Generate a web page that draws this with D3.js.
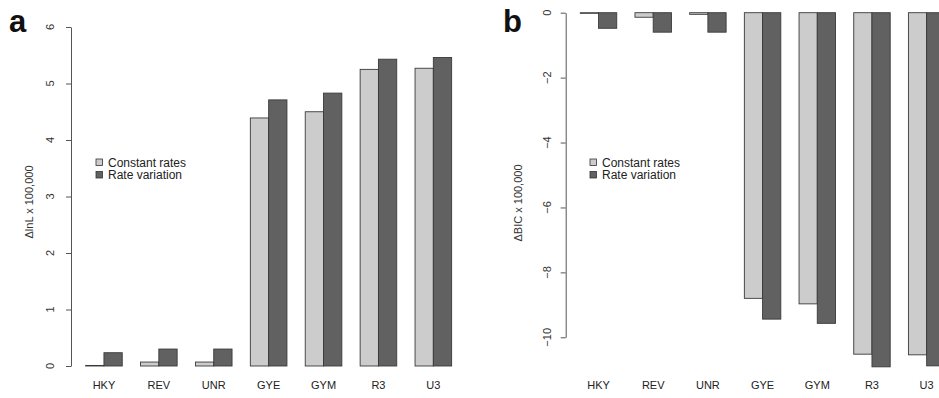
<!DOCTYPE html>
<html><head><meta charset="utf-8">
<script src="https://cdn.jsdelivr.net/npm/d3@7"></script>
<style>
body{margin:0;background:#fff;}
svg{display:block;font-family:"Liberation Sans",Arial,sans-serif;}
</style></head>
<body><svg id="c" width="939" height="398"></svg>
<script>
const categories = ["HKY","REV","UNR","GYE","GYM","R3","U3"];
const seriesNames = ["Constant rates","Rate variation"];
const lnLConstant = [0.01, 0.07, 0.07, 4.39, 4.50, 5.25, 5.27];
const lnLVariation = [0.235, 0.30, 0.30, 4.71, 4.83, 5.43, 5.46];
const bicConstant = [-0.02, -0.14, -0.05, -8.80, -8.97, -10.52, -10.54];
const bicVariation = [-0.48, -0.60, -0.60, -9.44, -9.57, -10.91, -10.88];
const ticksA = [0,1,2,3,4,5,6];
const ticksB = [0,-2,-4,-6,-8,-10];
const colors = ["#cccccc","#616161"];

const svg = d3.select("#c");

function panel(opt){
  const g = svg.append("g");
  const x = d3.scaleLinear().domain([0.2, 21.8]).range([opt.axisX, opt.axisX + 21.6*opt.unit]);
  const y = d3.scaleLinear().domain(opt.yDomain).range(opt.yRange);
  const series = [opt.s1, opt.s2];
  series.forEach((vals, si) => {
    g.selectAll(null).data(vals).enter().append("rect")
      .attr("x", (d,i) => x(1 + 3*i + si))
      .attr("width", (d,i) => x(2 + 3*i + si) - x(1 + 3*i + si))
      .attr("y", d => Math.min(y(d), y(0)))
      .attr("height", d => Math.max(0.5, Math.abs(y(d) - y(0))))
      .attr("fill", colors[si])
      .attr("stroke", "#3a3a3a")
      .attr("stroke-width", 0.9);
  });
  // category labels
  g.selectAll(null).data(categories).enter().append("text")
    .attr("x", (d,i) => x(2 + 3*i))
    .attr("y", 389)
    .attr("text-anchor","middle")
    .attr("font-size", 11)
    .attr("fill","#222")
    .text(d => d);
  // y axis (line + ticks)
  const ax = g.append("g").attr("transform", `translate(${opt.axisX},0)`)
    .call(d3.axisLeft(y).tickValues(opt.ticks).tickSize(5).tickSizeOuter(0).tickFormat(""));
  ax.select(".domain").attr("stroke","#555").attr("stroke-width",1);
  ax.selectAll(".tick line").attr("stroke","#555");
  ax.selectAll(".tick text").remove();
  // rotated tick labels
  g.selectAll(null).data(opt.ticks).enter().append("text")
    .attr("transform", d => `translate(${opt.axisX - opt.labelOff},${y(d)}) rotate(-90)`)
    .attr("text-anchor","middle")
    .attr("font-size", 11)
    .attr("fill","#333")
    .text(d => d < 0 ? "\u2212" + Math.abs(d) : d);
  // y title
  g.append("text")
    .attr("transform", `translate(${opt.titleX},${opt.titleY}) rotate(-90)`)
    .attr("text-anchor","middle")
    .attr("font-size", 11)
    .attr("fill","#333")
    .text(opt.title);
  // panel letter
  g.append("text").attr("x", opt.letterX).attr("y", 32)
    .attr("font-size", 31).attr("font-weight","bold").attr("fill","#111")
    .text(opt.letter);
  // legend
  const lg = g.append("g");
  seriesNames.forEach((n, i) => {
    lg.append("rect").attr("x", opt.legX).attr("y", 162 + i*12.5 - 3)
      .attr("width", 6.5).attr("height", 6.5)
      .attr("fill", colors[i]).attr("stroke","#333").attr("stroke-width",0.8);
    lg.append("text").attr("x", opt.legX + 12).attr("y", 166 + i*12.5 + 0.5)
      .attr("font-size", 12).attr("fill","#222").text(n);
  });
}

panel({axisX:71, unit:18.3, yDomain:[0,6], yRange:[366,27], s1:lnLConstant, s2:lnLVariation,
  ticks:ticksA, labelOff:17, titleX:33, titleY:202, title:"\u0394lnL x 100,000",
  letter:"a", letterX:9, legX:96});
panel({axisX:565.7, unit:18.23, yDomain:[0,-10], yRange:[12.7,337.3], s1:bicConstant, s2:bicVariation,
  ticks:ticksB, labelOff:15, titleX:522, titleY:203, title:"\u0394BIC x 100,000",
  letter:"b", letterX:503, legX:590});
</script></body></html>
